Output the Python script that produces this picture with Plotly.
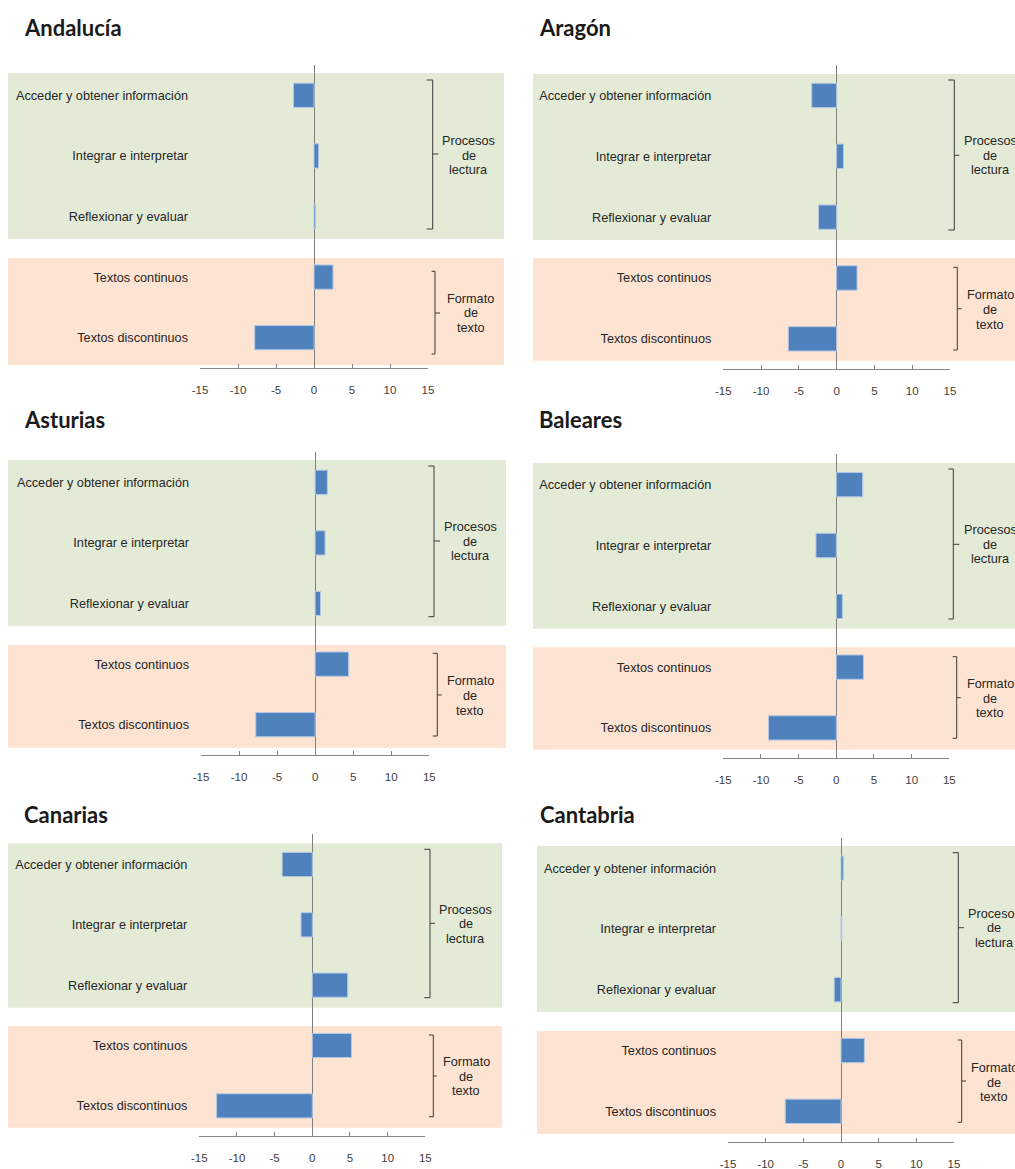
import plotly.graph_objects as go

W, H = 1015, 1169

# ---------------- data ----------------
regions = ["Andalucía", "Aragón", "Asturias", "Baleares", "Canarias", "Cantabria"]
categories = [
    "Acceder y obtener información",
    "Integrar e interpretar",
    "Reflexionar y evaluar",
    "Textos continuos",
    "Textos discontinuos",
]
andalucia = [-2.7, 0.6, 0.2, 2.5, -7.8]
aragon = [-3.3, 0.9, -2.4, 2.7, -6.4]
asturias = [1.6, 1.3, 0.7, 4.4, -7.8]
baleares = [3.5, -2.7, 0.8, 3.6, -9.0]
canarias = [-4.0, -1.5, 4.7, 5.2, -12.7]
cantabria = [0.3, 0.1, -0.9, 3.1, -7.4]
series = [andalucia, aragon, asturias, baleares, canarias, cantabria]
x_ticks = [-15, -10, -5, 0, 5, 10, 15]
x_tick_labels = ["-15", "-10", "-5", "0", "5", "10", "15"]
group_labels = ["Procesos<br>de<br>lectura", "Formato<br>de<br>texto"]

# ---------------- layout geometry (pixels) ----------------
PANELS = [
    dict(plot=(200, 428, 65, 368), title=(22, 28), band_x=(8, 504), green=(73, 239), peach=(258, 365),
         b1=(426.7, 432.7, 438.3, 80, 229, 154), l1=(468.7, 155.7),
         b2=(431.7, 435, 440, 271.3, 354, 313), l2=(470.7, 313.3)),
    dict(plot=(723.3, 950, 65, 369.3), title=(536.5, 28), band_x=(533, 1020), green=(74, 240), peach=(258, 360.7),
         b1=(948.3, 954.3, 959.3, 80, 230, 155.3), l1=(990, 155.7),
         b2=(953.3, 957.3, 961.7, 267.3, 350, 308.7), l2=(990, 310)),
    dict(plot=(201, 429.3, 452, 755), title=(21.5, 419.5), band_x=(8, 506), green=(460, 625.7), peach=(645, 747.7),
         b1=(428.3, 434, 440, 466, 616.7, 541), l1=(470, 541.7),
         b2=(432.7, 437.3, 441.7, 653.3, 736, 695), l2=(470, 696)),
    dict(plot=(723.3, 949.3, 454.3, 758.3), title=(536.5, 419.5), band_x=(533, 1020), green=(463, 628.7), peach=(647.3, 749.7),
         b1=(948.3, 953.3, 959.3, 469, 619, 544.3), l1=(990, 544.7),
         b2=(952.7, 956.7, 960.7, 656.7, 738.3, 697.7), l2=(990, 698.7)),
    dict(plot=(199.3, 425.3, 834.3, 1136), title=(21.5, 814.5), band_x=(8, 502), green=(843.3, 1007.7), peach=(1026, 1127.7),
         b1=(424.3, 430, 435, 849.3, 997.7, 923.3), l1=(465.7, 924.3),
         b2=(429, 433.3, 436.7, 1035, 1116.7, 1076), l2=(466, 1076.7)),
    dict(plot=(728, 954, 837.7, 1141.7), title=(537.5, 814.5), band_x=(537, 1020), green=(846, 1012), peach=(1031, 1134),
         b1=(952.7, 958.3, 964, 852.7, 1002.7, 927.7), l1=(994.3, 928.3),
         b2=(957.7, 961.7, 966, 1040, 1122.3, 1081), l2=(994.3, 1082.7)),
]

GREEN = "#E3EBD7"
PEACH = "#FDE3D1"
BAR = "#4F81BD"
AXIS = "#868686"
TXT = "#262626"
LABEL_FONT = "Liberation Sans"
LINE_STEP = 14.7  # px between lines of the group labels


def px(x):
    return x / W


def py(y):
    return 1 - y / H


fig = go.Figure()
shapes = []
annotations = []
layout_axes = {}

for i, (name, vals, g) in enumerate(zip(regions, series, PANELS)):
    n = i + 1
    xa = "x" if n == 1 else f"x{n}"
    ya = "y" if n == 1 else f"y{n}"
    x0, x1, y0, y1 = g["plot"]

    fig.add_trace(go.Bar(
        x=vals, y=categories, orientation="h", xaxis=xa, yaxis=ya,
        width=0.4, showlegend=False,
        marker=dict(color=BAR, line=dict(color="#B4C8E4", width=1)),
        hovertemplate="%{y}: %{x}<extra>" + name + "</extra>",
    ))

    layout_axes["xaxis" if n == 1 else f"xaxis{n}"] = dict(
        domain=[px(x0), px(x1)], anchor=ya, range=[-15, 15], automargin=False,
        tickmode="array", tickvals=x_ticks, ticktext=x_tick_labels, showgrid=False,
        showline=True, linecolor=AXIS, linewidth=1,
        ticks="inside", ticklen=4, tickcolor=AXIS, tickwidth=1,
        zeroline=True, zerolinecolor="#7F7F7F", zerolinewidth=1.3,
        layer="above traces",
        tickfont=dict(family=LABEL_FONT, size=11.5, color="#404040"),
        ticklabelstandoff=11, fixedrange=True,
    )
    layout_axes["yaxis" if n == 1 else f"yaxis{n}"] = dict(
        domain=[py(y1), py(y0)], anchor=xa, type="category", automargin=False,
        categoryorder="array", categoryarray=categories,
        range=[4.5, -0.5], showgrid=False, showline=False, zeroline=False,
        ticks="", ticklabelstandoff=11,
        tickfont=dict(family=LABEL_FONT, size=12.7, color=TXT), fixedrange=True,
    )

    bx0, bx1 = g["band_x"]
    for (ty0, ty1), col in ((g["green"], GREEN), (g["peach"], PEACH)):
        shapes.append(dict(type="rect", xref="paper", yref="paper",
                           x0=px(bx0), x1=px(bx1), y0=py(ty1), y1=py(ty0),
                           fillcolor=col, line=dict(width=0), layer="below"))

    for key, lkey, text in (("b1", "l1", group_labels[0]), ("b2", "l2", group_labels[1])):
        hx, vx, tx, top, bot, mid = g[key]
        path = (f"M{px(hx)},{py(top)} L{px(vx)},{py(top)} L{px(vx)},{py(bot)} L{px(hx)},{py(bot)} "
                f"M{px(vx)},{py(mid)} L{px(tx)},{py(mid)}")
        shapes.append(dict(type="path", xref="paper", yref="paper", path=path,
                           line=dict(color="#3A3A3A", width=1), layer="above"))
        lx, ly = g[lkey]
        lines = text.split("<br>")
        for k, line in enumerate(lines):
            off = (k - (len(lines) - 1) / 2) * LINE_STEP
            annotations.append(dict(text=line, xref="paper", yref="paper", x=px(lx), y=py(ly + off),
                                    xanchor="center", yanchor="middle", align="center", showarrow=False,
                                    font=dict(family=LABEL_FONT, size=12.7, color=TXT)))

    tx_, ty_ = g["title"]
    annotations.append(dict(text=f"<b>{name}</b>", xref="paper", yref="paper", x=px(tx_), y=py(ty_),
                            xanchor="left", yanchor="middle", showarrow=False,
                            font=dict(family="Lato", size=22, color="#1A1A1A")))

fig.update_layout(
    template="none",
    width=W, height=H, margin=dict(l=0, r=0, t=0, b=0, pad=0), autosize=False,
    paper_bgcolor="white", plot_bgcolor="rgba(0,0,0,0)",
    shapes=shapes, annotations=annotations, bargap=0.6,
    **layout_axes,
)

fig.write_html("out.html", config={"displayModeBar": False},
               post_script="document.body.style.margin='0px';")
